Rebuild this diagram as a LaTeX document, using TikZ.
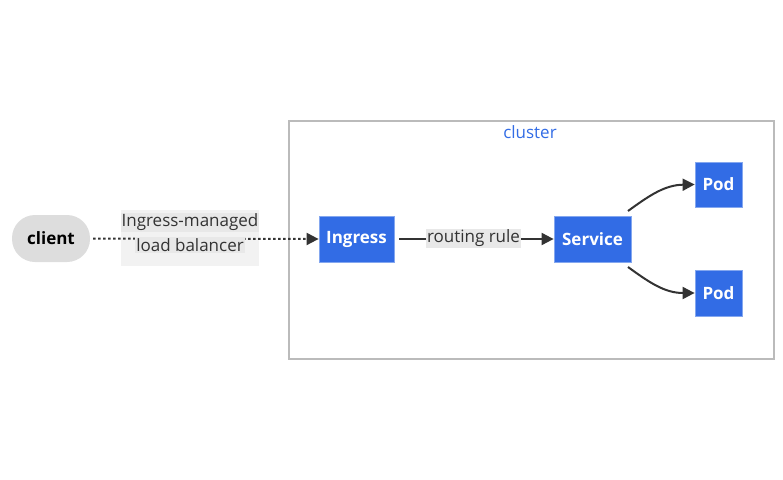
\documentclass[tikz,border=0pt]{standalone}
\usepackage{fontspec}
\setmainfont{Open Sans}
\usetikzlibrary{arrows.meta}
\definecolor{kblue}{HTML}{326CE5}
\definecolor{edgec}{HTML}{333333}
\definecolor{clientc}{HTML}{DDDDDD}
\definecolor{lblbg}{HTML}{F2F2F2}
\definecolor{lblin}{HTML}{E8E8E8}
\definecolor{clus}{HTML}{BBBBBB}
\begin{document}
\begin{tikzpicture}[x=1pt,y=-1pt,
  kbox/.style={draw=kblue!60!white,line width=0.8pt,fill=kblue,text=white,inner sep=0pt,font=\fontsize{17}{19}\selectfont\bfseries},
  conn/.style={draw=edgec,line width=2pt,-{Triangle[length=12pt,width=12pt]}},
  lbl/.style={fill=lblin,text=edgec,inner sep=1pt,font=\fontsize{17}{19}\selectfont}
]
\useasboundingbox (0,0) rectangle (783,479);
\node[draw=clus,line width=2pt,minimum width=485pt,minimum height=238pt,anchor=north west] (cluster) at (288,120) {};
\node[text=kblue,font=\fontsize{17}{19}\selectfont] (ctitle) at (530,132) {cluster};
\node[fill=clientc,rounded corners=23pt,minimum width=78pt,minimum height=47pt,inner sep=0pt,font=\fontsize{17}{19}\selectfont\bfseries,text=black] (client) at (51,238.5) {client};
\node[kbox,minimum width=75pt,minimum height=46pt] (ingress) at (356.5,239) {Ingress};
\node[kbox,minimum width=77pt,minimum height=46pt] (service) at (592.5,239) {Service};
\node[kbox,minimum width=47pt,minimum height=45pt] (pod1) at (718.5,184.5) {Pod};
\node[kbox,minimum width=47pt,minimum height=46pt] (pod2) at (718.5,293) {Pod};
\node[fill=lblbg,minimum width=138pt,minimum height=56pt,inner sep=0pt] (lb) at (190,238) {};
\draw[edgec,line width=2pt,dash pattern=on 2.5pt off 2.5pt,-{Triangle[length=12pt,width=12pt]}] (client.east)++(3,0) coordinate (cst) (cst) -- (ingress.west);
\node[lbl] (lb1) at (190,222) {Ingress-managed};
\node[lbl] (lb2) at (190,245) {load balancer};
\draw[conn] (ingress.east)++(5,0) coordinate (ist) (ist) -- (service.west);
\node[lbl] (rr) at (473.5,238) {routing rule};
\coordinate (s1) at (628,211);
\coordinate (s2) at (628,267);
\draw[conn] (s1) .. controls (650,195) and (665,185) .. (pod1.west);
\draw[conn] (s2) .. controls (650,283) and (665,293) .. (pod2.west);
\end{tikzpicture}
\end{document}
